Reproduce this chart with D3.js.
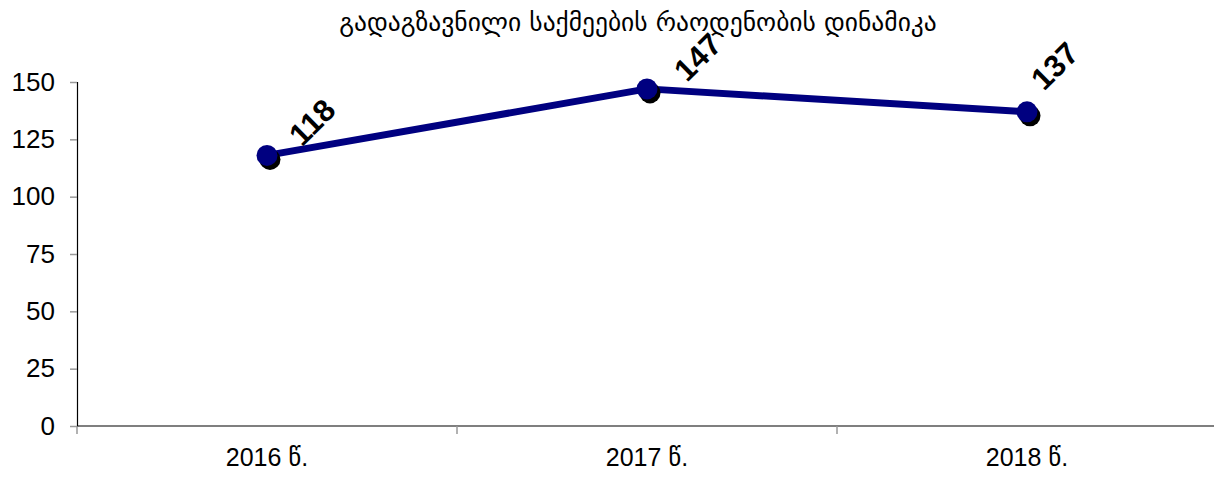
<!DOCTYPE html>
<html>
<head>
<meta charset="utf-8">
<script src="https://cdn.jsdelivr.net/npm/d3@7"></script>
<style>
  html, body { margin: 0; padding: 0; background: #fff; }
  svg { display: block; }
  text { font-family: "Liberation Sans", Arial, "DejaVu Sans", sans-serif; }
</style>
</head>
<body>
<svg id="chart" width="1214" height="477"></svg>
<script>
const chartTitle = "გადაგზავნილი საქმეების რაოდენობის დინამიკა";
const years = ["2016 წ.", "2017 წ.", "2018 წ."];
const caseCounts = [118, 147, 137];
const yTicks = [0, 25, 50, 75, 100, 125, 150];

// placement of each value label relative to its marker (dx, dy)
const labelShift = [[35, -8], [40, -6], [17, -20]];

const svg = d3.select("#chart");
const margin = { left: 77, right: -3, top: 82, bottom: 51 };
const W = 1214, H = 477;

const x = d3.scaleBand().domain(years).range([margin.left, W - margin.right]);
const y = d3.scaleLinear().domain([0, 150]).range([H - margin.bottom, margin.top]);

// Title
svg.append("text")
  .attr("x", 638).attr("y", 31)
  .attr("text-anchor", "middle")
  .style("font-family", "'DejaVu Sans', sans-serif")
  .style("font-size", "25.5px")
  .attr("fill", "#000")
  .text(chartTitle);

// Y axis
const yAxis = svg.append("g")
  .attr("transform", `translate(${margin.left},0)`)
  .call(d3.axisLeft(y).tickValues(yTicks).tickSize(7).tickPadding(15));
yAxis.select(".domain").attr("stroke", "#000").attr("stroke-width", 1.2);
yAxis.selectAll(".tick line").attr("stroke", "#999").attr("stroke-width", 1.5);
yAxis.selectAll(".tick text").style("font-size", "26px").attr("fill", "#000");

// X axis with ticks on band boundaries
const xAxisG = svg.append("g")
  .attr("transform", `translate(0,${y(0)})`);
xAxisG.append("line")
  .attr("x1", margin.left).attr("x2", W)
  .attr("stroke", "#000").attr("stroke-width", 1.2);
const bounds = years.map(d => x(d));
xAxisG.selectAll("line.bt").data(bounds).enter().append("line")
  .attr("class", "bt")
  .attr("x1", d => d).attr("x2", d => d)
  .attr("y1", 0).attr("y2", 8)
  .attr("stroke", "#999").attr("stroke-width", 1.5);
xAxisG.selectAll("text").data(years).enter().append("text")
  .attr("x", d => x(d) + x.bandwidth() / 2)
  .attr("y", 40)
  .attr("text-anchor", "middle")
  .style("font-size", "25px")
  .attr("fill", "#000")
  .text(d => d);

const data = years.map((d, i) => ({ year: d, value: caseCounts[i], shift: labelShift[i] }));
const cx = d => x(d.year) + x.bandwidth() / 2;

// Line
svg.append("path")
  .datum(data)
  .attr("fill", "none")
  .attr("stroke", "#000080")
  .attr("stroke-width", 7)
  .attr("stroke-linejoin", "round")
  .attr("d", d3.line().x(cx).y(d => y(d.value)));

// Marker shadows
svg.selectAll("circle.shadow").data(data).enter().append("circle")
  .attr("class", "shadow")
  .attr("cx", d => cx(d) + 3).attr("cy", d => y(d.value) + 4)
  .attr("r", 10.5).attr("fill", "#000");

// Markers
svg.selectAll("circle.pt").data(data).enter().append("circle")
  .attr("class", "pt")
  .attr("cx", cx).attr("cy", d => y(d.value))
  .attr("r", 10.5).attr("fill", "#000080");

// Value labels, rotated
svg.selectAll("text.val").data(data).enter().append("text")
  .attr("class", "val")
  .attr("transform", d => `translate(${cx(d) + d.shift[0]},${y(d.value) + d.shift[1]}) rotate(-45)`)
  .style("font-size", "31px")
  .style("font-weight", "bold")
  .attr("fill", "#000")
  .text(d => d.value);
</script>
</body>
</html>
